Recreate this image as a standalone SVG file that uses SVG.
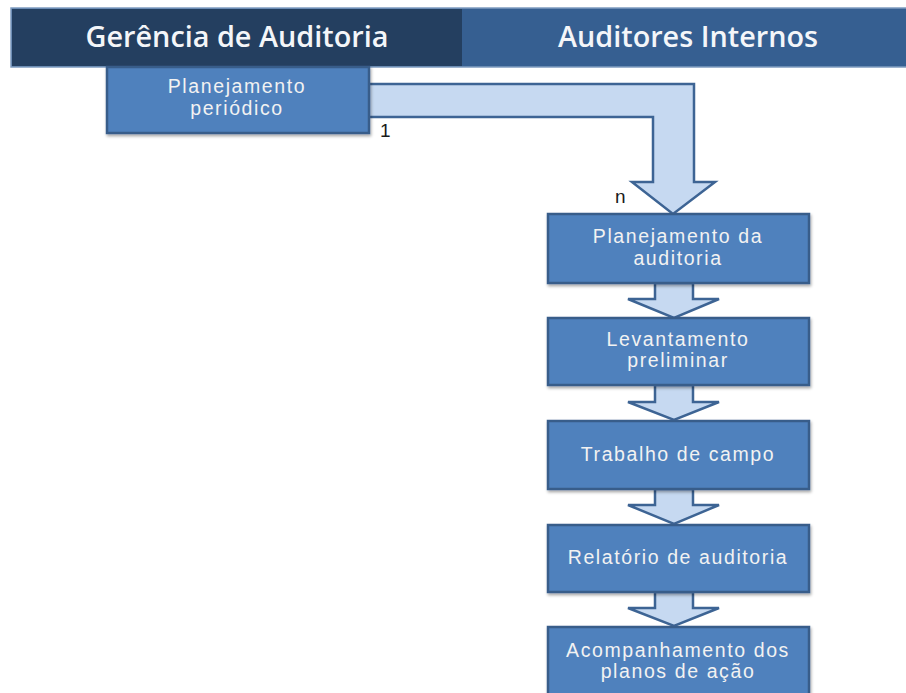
<svg xmlns="http://www.w3.org/2000/svg" width="906" height="693" viewBox="0 0 906 693">
<style>
.box{fill:#4f81bd;stroke:#385d8a;stroke-width:2.5;filter:url(#sh)}
.arr{fill:#c6d9f1;stroke:#3d6494;stroke-width:2.5;stroke-linejoin:miter}
.t{font-family:"Liberation Sans",Arial,sans-serif;font-size:19.5px;letter-spacing:1.6px;fill:#f2f2f2;text-anchor:middle}
.h{font-family:"Open Sans","Liberation Sans",sans-serif;font-size:28px;font-weight:600;fill:#f4f6f9;text-anchor:middle}
.lbl{font-family:"Liberation Sans",Arial,sans-serif;font-size:19px;fill:#1a1a1a}
</style>
<defs>
<filter id="sh" x="-10%" y="-10%" width="120%" height="130%">
<feDropShadow dx="1" dy="2" stdDeviation="1.5" flood-color="#000" flood-opacity="0.35"/>
</filter>
</defs>
<rect width="906" height="693" fill="#ffffff"/>
<g id="header">
<rect x="11" y="8" width="900" height="59" fill="#365f91" stroke="#7f9cc0" stroke-width="1.5"/>
<rect x="12" y="9" width="450" height="57" fill="#243f60"/>
<text class="h" x="237" y="47" textLength="303" lengthAdjust="spacingAndGlyphs">Gerência de Auditoria</text>
<text class="h" x="688" y="47" textLength="260" lengthAdjust="spacingAndGlyphs">Auditores Internos</text>
</g>
<g id="connectors">
<polygon class="arr" points="360,84 694,84 694,182 715,182 673,214 632,182 653,182 653,117 360,117"/>
<polygon class="arr" points="655,283 693,283 693,299 719,299 674,318 628,299 655,299"/>
<polygon class="arr" points="655,385 693,385 693,402 719,402 674,420 628,402 655,402"/>
<polygon class="arr" points="655,489 693,489 693,505 719,505 674,524 628,505 655,505"/>
<polygon class="arr" points="655,592 693,592 693,608 719,608 674,626 628,608 655,608"/>
<text class="lbl" x="380" y="137">1</text>
<text class="lbl" x="615" y="203">n</text>
</g>
<g id="planejamento-periodico">
<rect class="box" x="107" y="67" width="262" height="66"/>
<text class="t" x="237" y="93">Planejamento</text>
<text class="t" x="237" y="115">periódico</text>
</g>
<g id="planejamento-auditoria">
<rect class="box" x="548" y="214" width="261" height="69"/>
<text class="t" x="678" y="243">Planejamento da</text>
<text class="t" x="678" y="265">auditoria</text>
</g>
<g id="levantamento">
<rect class="box" x="548" y="318" width="261" height="67"/>
<text class="t" x="678" y="346">Levantamento</text>
<text class="t" x="678" y="367">preliminar</text>
</g>
<g id="trabalho">
<rect class="box" x="548" y="421" width="261" height="68"/>
<text class="t" x="678" y="461">Trabalho de campo</text>
</g>
<g id="relatorio">
<rect class="box" x="548" y="525" width="261" height="67"/>
<text class="t" x="678" y="564">Relatório de auditoria</text>
</g>
<g id="acompanhamento">
<rect class="box" x="548" y="627" width="261" height="75"/>
<text class="t" x="678" y="657">Acompanhamento dos</text>
<text class="t" x="678" y="678">planos de ação</text>
</g>
</svg>
